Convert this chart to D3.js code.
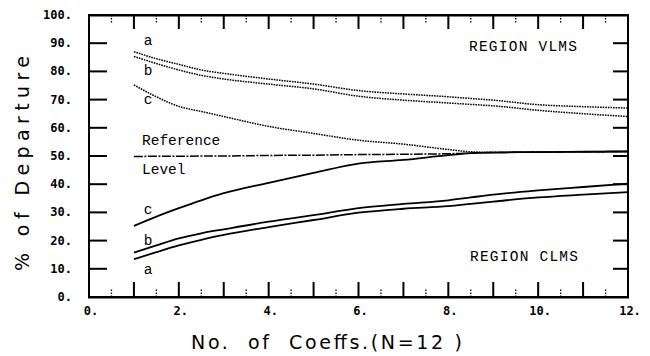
<!DOCTYPE html>
<html><head><meta charset="utf-8">
<script src="https://cdn.jsdelivr.net/npm/d3@7"></script>
<style>body{margin:0;background:#fff}svg{display:block}</style>
</head><body><svg id="c" width="650" height="356"></svg>
<script>
// ---- data ----
const xTicks = [0, 2, 4, 6, 8, 10, 12];
const yTicks = [0, 10, 20, 30, 40, 50, 60, 70, 80, 90, 100];
const coeffs = [1, 1.5, 2, 2.5, 3, 4, 5, 6, 7, 8, 8.5, 9, 10, 11, 12];
const vlmsA = [87, 84.5, 82.5, 80.5, 79.3, 77.3, 75.5, 73.2, 72, 71, 70.4, 69.8, 68.2, 67.5, 67];
const vlmsB = [85.3, 82.8, 80.5, 78.6, 77.3, 75.5, 73.8, 71.2, 69.8, 68.8, 68.3, 67.8, 66.2, 65, 64];
const vlmsC = [75.2, 71, 67.6, 65.8, 64, 60.5, 58, 55.6, 54.2, 52.3, 51.5, 51.3, 51.4, 51.5, 51.6];
const refLevel = [49.8, 49.9, 49.9, 50, 50, 50.2, 50.3, 50.5, 50.6, 50.8, 51, 51.2, 51.4, 51.5, 51.6];
const clmsC = [25.2, 28.5, 31.5, 34.3, 36.8, 40.5, 44, 47.3, 48.6, 50.3, 51, 51.2, 51.4, 51.5, 51.6];
const clmsB = [15.7, 18.3, 20.8, 22.6, 24, 26.7, 29, 31.5, 33, 34.3, 35.3, 36.3, 37.8, 39, 40.2];
const clmsA = [13.4, 15.9, 18.3, 20.3, 22, 24.8, 27.3, 29.9, 31.3, 32.2, 33, 33.8, 35.3, 36.3, 37.2];

const svg = d3.select("#c");
const x = d3.scaleLinear().domain([0, 12]).range([89, 628]);
const y = d3.scaleLinear().domain([0, 100]).range([297, 15]);
const ink = "#000";

const majX = d3.range(1, 12);
const minX = d3.range(0.5, 12, 1);
const majY = d3.range(10, 100, 10);

// frame as filled bars
svg.append("rect").attr("x", x(0) - 1).attr("y", y(0) - 1).attr("width", x(12) - x(0) + 2).attr("height", 2.5).attr("fill", ink);
svg.append("rect").attr("x", x(0) - 1).attr("y", y(100) - 1).attr("width", x(12) - x(0) + 2).attr("height", 2.5).attr("fill", ink);
svg.append("rect").attr("x", x(0) - 1).attr("y", y(100)).attr("width", 2).attr("height", y(0) - y(100)).attr("fill", ink);
svg.append("rect").attr("x", x(12) - 1).attr("y", y(100)).attr("width", 2).attr("height", y(0) - y(100)).attr("fill", ink);

// major ticks as rects
svg.selectAll(".tkb").data(majX).join("rect").attr("class", "tkb")
  .attr("x", d => x(d) - 1).attr("y", y(0) - 15).attr("width", 2).attr("height", 15).attr("fill", ink);
svg.selectAll(".tkt").data(majX).join("rect").attr("class", "tkt")
  .attr("x", d => x(d) - 1).attr("y", y(100)).attr("width", 2).attr("height", 14).attr("fill", ink);
svg.selectAll(".tkl").data(majY).join("rect").attr("class", "tkl")
  .attr("x", x(0)).attr("y", d => y(d) - 1).attr("width", 18).attr("height", 2).attr("fill", ink);
svg.selectAll(".tkr").data(majY).join("rect").attr("class", "tkr")
  .attr("x", x(12) - 15).attr("y", d => y(d) - 1).attr("width", 15).attr("height", 2).attr("fill", ink);
// minor dotted ticks
svg.selectAll(".mkb").data(minX).join("line").attr("class", "mkb")
  .attr("x1", d => x(d)).attr("x2", d => x(d)).attr("y1", y(0)).attr("y2", y(0) - 9)
  .attr("stroke", ink).attr("stroke-width", 1.3).attr("stroke-dasharray", "1.5,1.5");
svg.selectAll(".mkt").data(minX).join("line").attr("class", "mkt")
  .attr("x1", d => x(d)).attr("x2", d => x(d)).attr("y1", y(100)).attr("y2", y(100) + 8)
  .attr("stroke", ink).attr("stroke-width", 1.3).attr("stroke-dasharray", "1.5,1.5");

// tick labels
const tickFont = "'DejaVu Sans Mono', monospace";
svg.append("g").selectAll("text").data(yTicks).join("text")
  .attr("x", 72).attr("y", d => y(d) + 4)
  .attr("text-anchor", "end")
  .attr("font-family", tickFont).attr("font-weight", "bold").attr("font-size", 12)
  .attr("fill", ink).text(d => d + ".");
svg.append("g").selectAll("text").data(xTicks).join("text")
  .attr("x", d => x(d) + 2).attr("y", 315)
  .attr("text-anchor", "middle")
  .attr("font-family", tickFont).attr("font-weight", "bold").attr("font-size", 12)
  .attr("fill", ink).text(d => d + ".");

// axis titles
svg.append("text").attr("x", 191).attr("y", 349)
  .attr("font-family", "'DejaVu Sans', sans-serif").attr("font-size", 19)
  .attr("textLength", 271).attr("lengthAdjust", "spacing")
  .attr("fill", ink).attr("xml:space", "preserve")
  .text("No.  of  Coeffs.(N=12 )");
svg.append("text")
  .attr("transform", "translate(29,271) rotate(-90)")
  .attr("font-family", "'DejaVu Sans', sans-serif").attr("font-size", 19)
  .attr("textLength", 215).attr("lengthAdjust", "spacing")
  .attr("fill", ink).attr("xml:space", "preserve")
  .text("% of Departure");

// curves
const line = d3.line().x((d, i) => x(coeffs[i])).y(d => y(d)).curve(d3.curveMonotoneX);
function draw(arr, dash, w) {
  svg.append("path").datum(arr).attr("d", line)
    .attr("fill", "none").attr("stroke", ink).attr("stroke-width", w)
    .attr("stroke-dasharray", dash);
}
draw(vlmsA, "1.6,1", 1.5);
draw(vlmsB, "1.6,1", 1.5);
draw(vlmsC, "1.6,1", 1.5);
draw(refLevel, "9,1.5,2,1.5", 1.5);
draw(clmsC, null, 1.8);
draw(clmsB, null, 1.8);
draw(clmsA, null, 1.8);

// annotations
const labFont = "'Liberation Mono', 'Courier New', monospace";
function lab(t, xv, yv) {
  svg.append("text").attr("x", x(xv)).attr("y", y(yv))
    .attr("font-family", labFont).attr("font-size", 14.5)
    .attr("fill", ink).text(t);
}
lab("a", 1.22, 89.4);
lab("b", 1.22, 78.7);
lab("c", 1.22, 68.4);
lab("Reference", 1.18, 54);
lab("Level", 1.18, 43.6);
lab("c", 1.22, 29.4);
lab("b", 1.22, 18.4);
lab("a", 1.22, 8.2);
svg.append("text").attr("x", 469).attr("y", 51)
  .attr("font-family", labFont).attr("font-size", 14.5)
  .attr("textLength", 108).attr("lengthAdjust", "spacing")
  .attr("fill", ink).text("REGION VLMS");
svg.append("text").attr("x", 470).attr("y", 261)
  .attr("font-family", labFont).attr("font-size", 14.5)
  .attr("textLength", 108).attr("lengthAdjust", "spacing")
  .attr("fill", ink).text("REGION CLMS");
</script></body></html>
